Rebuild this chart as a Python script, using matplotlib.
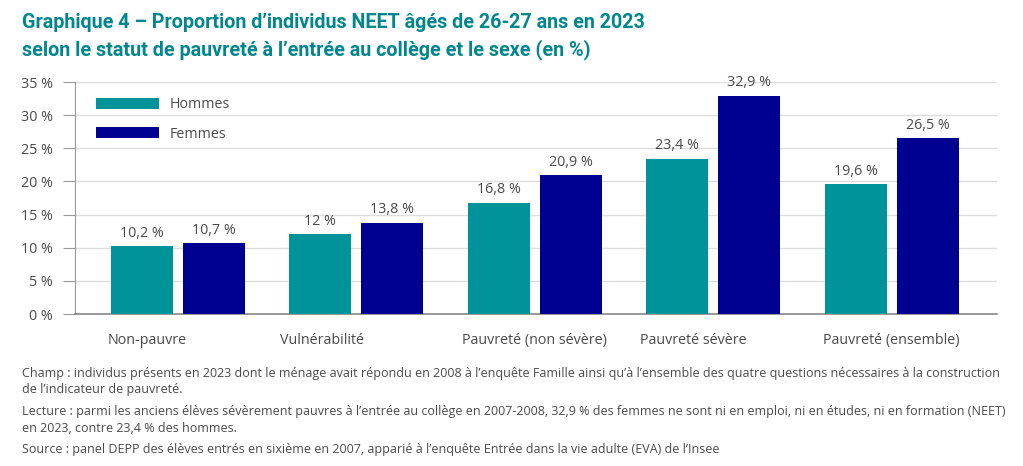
import numpy as np
import matplotlib.pyplot as plt
from matplotlib import font_manager

# data
categories = ['Non-pauvre', 'Vulnérabilité', 'Pauvreté (non sévère)', 'Pauvreté sévère', 'Pauvreté (ensemble)']
hommes = [10.2, 12.0, 16.8, 23.4, 19.6]
femmes = [10.7, 13.8, 20.9, 32.9, 26.5]
hommes_lbl = ['10,2 %', '12 %', '16,8 %', '23,4 %', '19,6 %']
femmes_lbl = ['10,7 %', '13,8 %', '20,9 %', '32,9 %', '26,5 %']
yticks = [0, 5, 10, 15, 20, 25, 30, 35]

teal = '#00939a'
navy = '#000091'
title_col = '#00878d'
txt = '#4a4a4a'

names = {f.name for f in font_manager.fontManager.ttflist}
narrow = 'Liberation Sans Narrow' if 'Liberation Sans Narrow' in names else 'Open Sans'
plt.rcParams['font.family'] = ['Open Sans', 'DejaVu Sans']

fig = plt.figure(figsize=(10.23, 4.66), dpi=100)
ax = fig.add_axes([75/1023, 1-314/466, 922/1023, 232/466])

x = np.arange(len(categories))
w = 0.3475
off = 0.2018
b1 = ax.bar(x - off, hommes, w, color=teal, label='Hommes', zorder=3)
b2 = ax.bar(x + off, femmes, w, color=navy, label='Femmes', zorder=3)

for rect, lab in zip(b1, hommes_lbl):
    ax.annotate(lab, (rect.get_x() + rect.get_width()/2, rect.get_height()),
                xytext=(0, 4), textcoords='offset points', ha='center', va='bottom',
                fontsize=10.3, color=txt)
for rect, lab in zip(b2, femmes_lbl):
    ax.annotate(lab, (rect.get_x() + rect.get_width()/2, rect.get_height()),
                xytext=(0, 4), textcoords='offset points', ha='center', va='bottom',
                fontsize=10.3, color=txt)

ax.set_xlim(-0.577, 4.59)
ax.set_ylim(0, 35)
ax.set_yticks(yticks)
ax.set_yticklabels([f'{v} %' for v in yticks], fontsize=10.3, color=txt)
# category labels sit a bit left of the bar pairs in the original
ax.set_xticks(x + np.array([-0.17, -0.19, 0.0, -0.11, 0.0]))
ax.set_xticklabels(categories, fontsize=10.3, color=txt)
ax.tick_params(axis='x', length=0, pad=14)
ax.tick_params(axis='y', length=9, color='#999999', pad=7)
ax.yaxis.grid(True, color='#dddddd', linewidth=1, zorder=0)
ax.set_axisbelow(True)
for s in ['top', 'right']:
    ax.spines[s].set_visible(False)
ax.spines['left'].set_color('#999999')
ax.spines['bottom'].set_color('#888888')
ax.spines['bottom'].set_linewidth(1.2)

ax.legend(loc='upper left', bbox_to_anchor=(0.009, 0.99), frameon=False,
          handlelength=4.4, handleheight=0.8, labelspacing=1.0, handletextpad=0.7,
          fontsize=10.3, labelcolor=txt)

fig.text(22/1023, 1-23/466, 'Graphique 4 – Proportion d’individus NEET âgés de 26-27 ans en 2023',
         fontsize=14.2, fontweight='bold', color=title_col, va='center', family=['Roboto', 'DejaVu Sans'])
fig.text(22/1023, 1-50/466, 'selon le statut de pauvreté à l’entrée au collège et le sexe (en %)',
         fontsize=14.2, fontweight='bold', color=title_col, va='center', family=['Roboto', 'DejaVu Sans'])

notes = [
    (373, 'Champ : individus présents en 2023 dont le ménage avait répondu en 2008 à l’enquête Famille ainsi qu’à l’ensemble des quatre questions nécessaires à la construction'),
    (390, 'de l’indicateur de pauvreté.'),
    (411, 'Lecture : parmi les anciens élèves sévèrement pauvres à l’entrée au collège en 2007-2008, 32,9 % des femmes ne sont ni en emploi, ni en études, ni en formation (NEET)'),
    (428, 'en 2023, contre 23,4 % des hommes.'),
    (449, 'Source : panel DEPP des élèves entrés en sixième en 2007, apparié à l’enquête Entrée dans la vie adulte (EVA) de l’Insee'),
]
for ypix, t in notes:
    fig.text(22/1023, 1-ypix/466, t, fontsize=9.0, color=txt, va='center', family=[narrow, 'DejaVu Sans'])

fig.savefig('out.png', dpi=100, facecolor='white')
